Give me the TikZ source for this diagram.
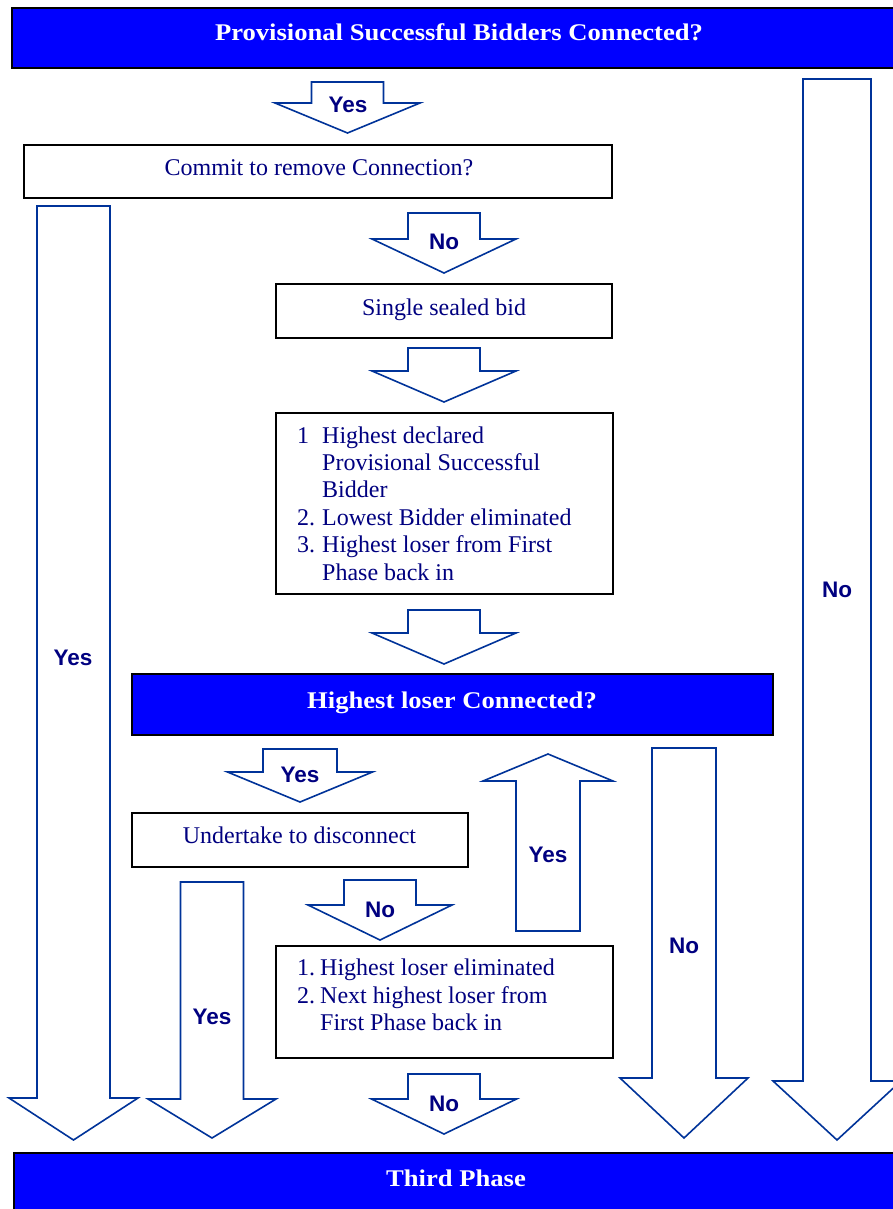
\documentclass[tikz,border=0pt]{standalone}
\usepackage{fontspec}
\setmainfont{Liberation Serif}
\setsansfont{Liberation Sans}
\usepackage{array}
\usepackage{graphicx}

\definecolor{navytext}{RGB}{0,0,128}
\definecolor{arrowline}{RGB}{0,51,153}
\definecolor{barblue}{RGB}{0,0,255}

\tikzset{
  panel/.style={draw=black, line width=1.8pt, fill=white, inner sep=0pt},
  bar/.style={draw=black, line width=1.8pt, fill=barblue, inner sep=0pt},
  bodytext/.style={text=navytext, font=\fontsize{24}{27.4}\selectfont, inner sep=0pt, anchor=base},
  listtext/.style={text=navytext, font=\fontsize{24}{27.4}\selectfont, inner sep=0pt, anchor=base west},
  bartext/.style={text=white, font=\fontsize{26.6}{30}\selectfont\bfseries, inner sep=0pt, anchor=base},
  arrowlabel/.style={text=navytext, font=\fontsize{22.5}{26}\selectfont\sffamily\bfseries, inner sep=0pt, anchor=base},
  blockarrow/.style={draw=arrowline, line width=1.6pt, fill=white, line join=miter},
}

% slightly condensed height for the bar headings
\newcommand{\barheading}[1]{\scalebox{1}[0.9]{#1}}

% block arrow: centre x, half shaft width, half head width, tail y, shoulder y, tip y
\newcommand{\blockarrowshape}[6]{%
  \draw[blockarrow] ({#1-#2},#4) -- ({#1+#2},#4) -- ({#1+#2},#5) -- ({#1+#3},#5)
    -- (#1,#6) -- ({#1-#3},#5) -- ({#1-#2},#5) -- cycle;}

\begin{document}
\begin{tikzpicture}[x=1pt, y=-1pt]
\useasboundingbox (0,0) rectangle (893,1209);
\fill[white] (0,0) rectangle (893,1209);

% ---- decision bars ----
\node[bar, minimum width=894pt, minimum height=60pt] (connected) at (459,38) {};
\node[bartext] (connectedText) at (459,41) {\barheading{Provisional Successful Bidders Connected?}};

\node[bar, minimum width=641pt, minimum height=61pt] (loser) at (452.5,704.5) {};
\node[bartext] (loserText) at (452,708) {\barheading{Highest loser Connected?}};

\node[bar, minimum width=884pt, minimum height=62pt] (third) at (456,1184) {};
\node[bartext] (thirdText) at (456,1186) {\barheading{Third Phase}};

% ---- process boxes ----
\node[panel, minimum width=588pt, minimum height=53pt] (commit) at (318,171.5) {};
\node[bodytext] (commitText) at (319,176) {Commit to remove Connection?};

\node[panel, minimum width=336pt, minimum height=54pt] (sealed) at (444,311) {};
\node[bodytext] (sealedText) at (444,315) {Single sealed bid};

\node[panel, minimum width=337pt, minimum height=181pt] (outcome) at (444.5,503.5) {};
\node[listtext] (outcomeText) at (297,443) {%
  \begin{tabular}[t]{@{}p{25pt}@{}l@{}}
  1  & Highest declared\\
     & Provisional Successful\\
     & Bidder\\
  2. & Lowest Bidder eliminated\\
  3. & Highest loser from First\\
     & Phase back in
  \end{tabular}};

\node[panel, minimum width=336pt, minimum height=54pt] (undertake) at (300,840) {};
\node[bodytext] (undertakeText) at (299.5,843) {Undertake to disconnect};

\node[panel, minimum width=337pt, minimum height=112pt] (eliminate) at (444.5,1002) {};
\node[listtext] (eliminateText) at (297,975.7) {%
  \begin{tabular}[t]{@{}p{23pt}@{}l@{}}
  1. & Highest loser eliminated\\
  2. & Next highest loser from\\
     & First Phase back in
  \end{tabular}};

% ---- block arrows ----
\blockarrowshape{347.5}{36}{72.5}{82}{103}{133}
\node[arrowlabel] (yesA) at (348,113) {Yes};

\blockarrowshape{444}{36}{72}{213}{239}{273}
\node[arrowlabel] (noA) at (444,249) {No};

\blockarrowshape{444}{36}{72}{348}{371}{402}

\blockarrowshape{444}{36}{72}{610}{633}{664}

\blockarrowshape{73.5}{36.5}{64.5}{206}{1098}{1140}
\node[arrowlabel] (yesLeft) at (73,665) {Yes};

\blockarrowshape{837}{34}{64}{79}{1081}{1140}
\node[arrowlabel] (noRight) at (837,597) {No};

\blockarrowshape{300}{37}{72.5}{749}{772}{802}
\node[arrowlabel] (yesB) at (300,782) {Yes};

\blockarrowshape{548}{32}{65}{931}{781}{754}
\node[arrowlabel] (yesUp) at (548,862) {Yes};

\blockarrowshape{684}{32}{64}{748}{1078}{1138}
\node[arrowlabel] (noMid) at (684,953) {No};

\blockarrowshape{212}{31.5}{64}{882}{1099}{1138}
\node[arrowlabel] (yesC) at (212,1024) {Yes};

\blockarrowshape{380}{36}{72}{880}{905}{940}
\node[arrowlabel] (noB) at (380,917) {No};

\blockarrowshape{444}{36}{72.5}{1074}{1099}{1134}
\node[arrowlabel] (noC) at (444,1111) {No};
\end{tikzpicture}
\end{document}
